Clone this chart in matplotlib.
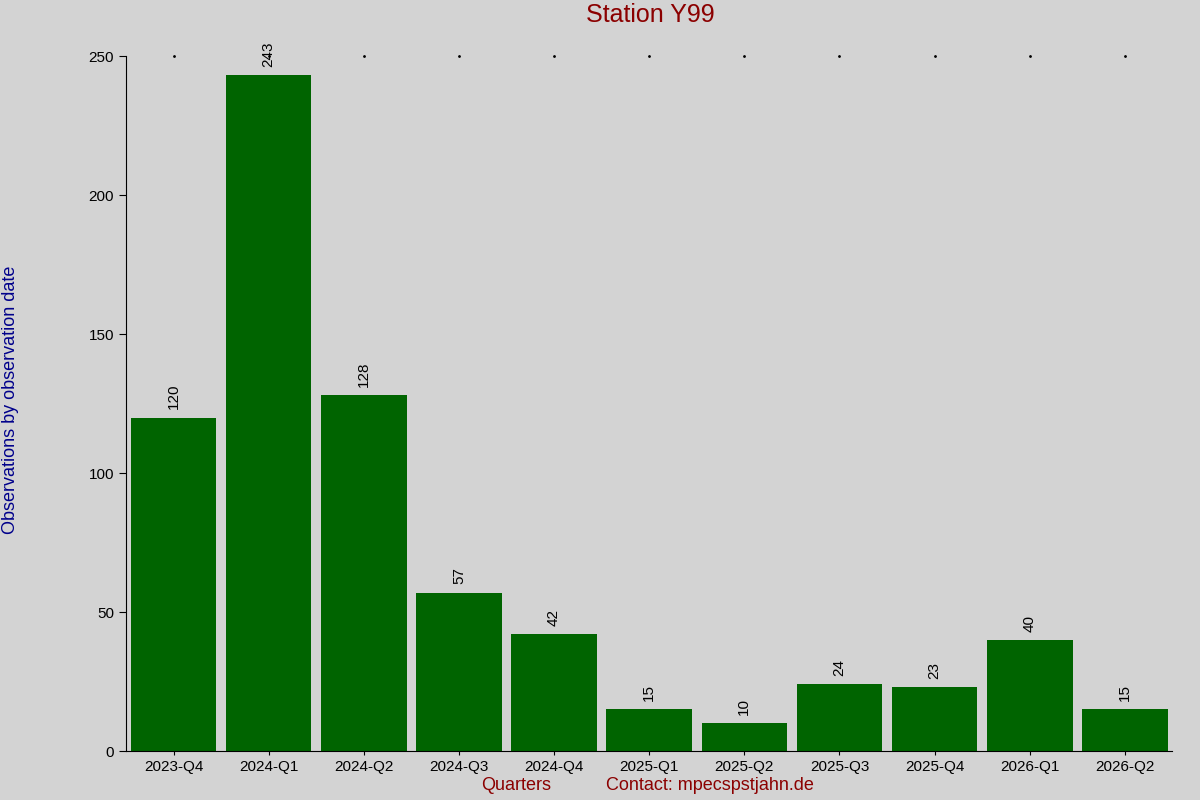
import matplotlib
matplotlib.use("Agg")
import matplotlib.pyplot as plt

quarters = ["2023-Q4", "2024-Q1", "2024-Q2", "2024-Q3", "2024-Q4", "2025-Q1",
            "2025-Q2", "2025-Q3", "2025-Q4", "2026-Q1", "2026-Q2"]
counts = [120, 243, 128, 57, 42, 15, 10, 24, 23, 40, 15]

plt.rcParams['font.family'] = ['Liberation Sans', 'DejaVu Sans']
bg = '#d3d3d3'

fig = plt.figure(figsize=(12, 8), dpi=100, facecolor=bg)
ax = fig.add_axes([0.105, 0.061, 0.872, 0.869], facecolor=bg)

x = list(range(len(quarters)))
ax.bar(x, counts, width=0.9, color='#006400')
for xi, v in zip(x, counts):
    ax.text(xi, v + 3, str(v), rotation=90, ha='center', va='bottom', fontsize=11)

ax.set_xlim(-0.5, len(quarters) - 0.5)
ax.set_ylim(0, 250)
ax.set_xticks(x)
ax.set_xticklabels(quarters, fontsize=11)
ax.set_yticks([0, 50, 100, 150, 200, 250])
ax.tick_params(axis='y', labelsize=11, length=5)
ax.tick_params(axis='x', length=3)
for s in ['top', 'right']:
    ax.spines[s].set_visible(False)

# small dots along the top
ax.scatter(x, [250] * len(x), s=1, color='black', clip_on=False)

fig.text(0.5417, 0.981, "Station Y99", ha='center', va='center', fontsize=18, color='#8b0000')
fig.text(0.43, 0.018, "Quarters", ha='center', va='center', fontsize=13, color='#8b0000')
fig.text(0.592, 0.018, "Contact: mpecspstjahn.de", ha='center', va='center', fontsize=13, color='#8b0000')
fig.text(0.009, 0.5, "Observations by observation date", rotation=90, ha='center', va='center',
         fontsize=13, color='#00008b')

fig.savefig("out.png", facecolor=bg)
